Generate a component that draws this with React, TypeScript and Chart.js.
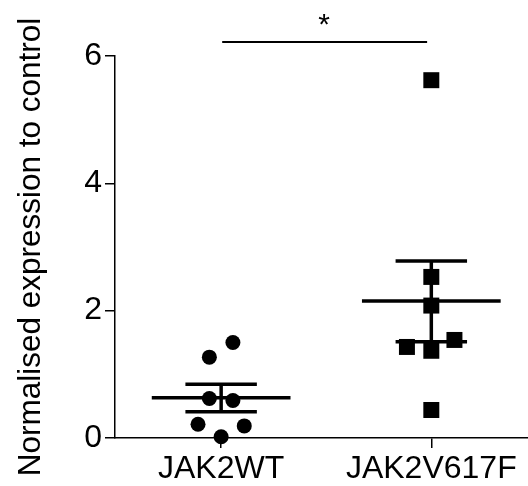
import React, { useEffect, useRef } from "react";
import { Chart, registerables } from "chart.js";

Chart.register(...registerables);

const categories = ["JAK2WT", "JAK2V617F"];
const wtValues = [1.5, 1.27, 0.62, 0.59, 0.215, 0.19, 0.02];
const wtJitter = [0.056, -0.056, -0.056, 0.056, -0.11, 0.11, 0];
const mutValues = [5.62, 2.53, 2.08, 1.43, 1.37, 1.54, 0.44];
const mutJitter = [0, 0, 0, -0.116, 0, 0.11, 0];
const meanValues = [0.633, 2.15];
const semLow = [0.413, 1.51];
const semHigh = [0.843, 2.78];
const yTicks = [0, 2, 4, 6];
const sigLabel = "*";
const sigLevel = 6.22;
const yTitle = "Normalised expression to control";

const FONT = "'Liberation Sans', Arial, Helvetica, sans-serif";
const MEAN_HALF = 0.33;
const CAP_HALF = 0.17;

export default function App() {
  const ref = useRef<HTMLCanvasElement | null>(null);

  useEffect(() => {
    document.body.style.margin = "0";
    const canvas = ref.current;
    if (!canvas) return;

    const seg = (x1: number, y1: number, x2: number, y2: number) => ({
      type: "line",
      data: [
        { x: x1, y: y1 },
        { x: x2, y: y2 },
      ],
      borderColor: "#000",
      borderWidth: 3.5,
      pointRadius: 0,
      showLine: true,
      clip: false,
    });

    const lineDatasets: any[] = [];
    categories.forEach((_, i) => {
      lineDatasets.push(seg(i - MEAN_HALF, meanValues[i], i + MEAN_HALF, meanValues[i]));
      lineDatasets.push(seg(i - CAP_HALF, semHigh[i], i + CAP_HALF, semHigh[i]));
      lineDatasets.push(seg(i - CAP_HALF, semLow[i], i + CAP_HALF, semLow[i]));
      lineDatasets.push(seg(i, semLow[i], i, semHigh[i]));
    });

    const sigPlugin = {
      id: "sig",
      afterDraw(chart: any) {
        const { ctx, scales } = chart;
        const x = scales.x;
        const y = scales.y;
        const yy = y.getPixelForValue(sigLevel);
        ctx.save();
        ctx.strokeStyle = "#000";
        ctx.lineWidth = 2;
        ctx.beginPath();
        ctx.moveTo(x.getPixelForValue(0.005), yy);
        ctx.lineTo(x.getPixelForValue(0.98), yy);
        ctx.stroke();
        ctx.fillStyle = "#000";
        ctx.font = "30px " + FONT;
        ctx.textAlign = "center";
        ctx.textBaseline = "alphabetic";
        ctx.fillText(sigLabel, x.getPixelForValue(0.49), y.getPixelForValue(6.34));
        ctx.restore();
      },
    };

    const chart = new Chart(canvas, {
      type: "scatter",
      data: {
        datasets: [
          ...lineDatasets,
          {
            type: "scatter",
            data: wtValues.map((v, i) => ({ x: 0 + wtJitter[i], y: v })),
            pointStyle: "circle",
            pointRadius: 7.5,
            backgroundColor: "#000",
            borderColor: "#000",
            borderWidth: 0,
            clip: false,
          },
          {
            type: "scatter",
            data: mutValues.map((v, i) => ({ x: 1 + mutJitter[i], y: v })),
            pointStyle: "rect",
            pointRadius: 11.3,
            backgroundColor: "#000",
            borderColor: "#000",
            borderWidth: 0,
            clip: false,
          },
        ] as any,
      },
      options: {
        responsive: false,
        animation: false,
        layout: { autoPadding: false, padding: { top: 56, right: 0, bottom: 0, left: 0 } },
        plugins: {
          legend: { display: false },
          tooltip: { enabled: false },
        },
        scales: {
          x: {
            type: "linear",
            min: -0.505,
            max: 1.46,
            afterBuildTicks: (scale: any) => {
              scale.ticks = categories.map((_, i) => ({ value: i }));
            },
            afterFit: (scale: any) => {
              scale.height = 48;
              scale.paddingLeft = 0;
              scale.paddingRight = 0;
            },
            ticks: {
              callback: (v: any) => categories[Math.round(Number(v))] ?? "",
              color: "#000",
              font: { family: FONT, size: 32 },
              padding: 2,
              maxRotation: 0,
              autoSkip: false,
            },
            grid: {
              display: true,
              drawOnChartArea: false,
              drawTicks: true,
              tickLength: 10,
              color: "#000",
              lineWidth: 1.5,
            },
            border: { display: true, color: "#000", width: 1.5 },
          },
          y: {
            type: "linear",
            min: 0,
            max: 6,
            afterBuildTicks: (scale: any) => {
              scale.ticks = yTicks.map((v) => ({ value: v }));
            },
            afterFit: (scale: any) => {
              scale.width = 115;
              scale.paddingTop = 0;
              scale.paddingBottom = 0;
            },
            ticks: {
              color: "#000",
              font: { family: FONT, size: 32 },
              padding: 3,
            },
            grid: {
              display: true,
              drawOnChartArea: false,
              drawTicks: true,
              tickLength: 10,
              color: "#000",
              lineWidth: 1.5,
            },
            border: { display: true, color: "#000", width: 1.5 },
            title: {
              display: true,
              text: yTitle,
              color: "#000",
              font: { family: FONT, size: 31.5 },
              padding: { top: 12, bottom: 0 },
            },
          },
        },
      },
      plugins: [sigPlugin],
    } as any);

    return () => chart.destroy();
  }, []);

  return (
    <div style={{ width: 528, height: 486 }}>
      <canvas ref={ref} width={528} height={486} />
    </div>
  );
}
